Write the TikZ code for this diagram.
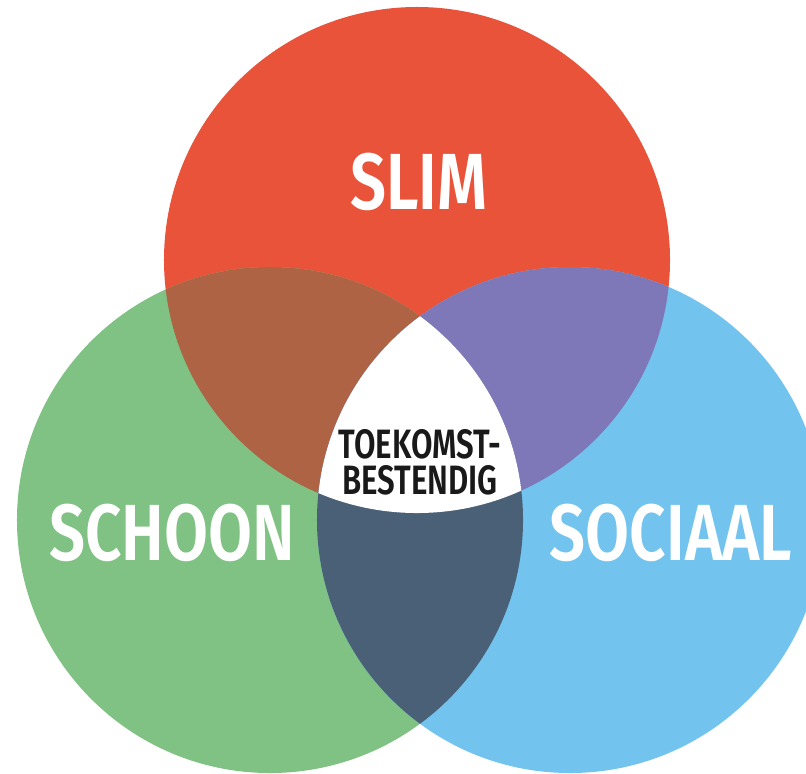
\documentclass[tikz,border=0pt]{standalone}
\usepackage{fontspec}
\setmainfont{Fira Sans}[BoldFont={Fira Sans SemiBold}]
\definecolor{slimred}{HTML}{E8533A}
\definecolor{schoongreen}{HTML}{80C283}
\definecolor{sociaalblue}{HTML}{72C3EE}
\definecolor{redgreen}{HTML}{AE6344}
\definecolor{redblue}{HTML}{7E77B8}
\definecolor{greenblue}{HTML}{4A6076}
\tikzset{
  label big/.style={text=white, font=\bfseries\fontsize{68}{68}\selectfont, xscale=0.8, inner sep=0pt},
  label mid/.style={text=black!90, font=\bfseries\fontsize{35}{31}\selectfont, align=center, xscale=0.76, inner sep=0pt}
}
\begin{document}
\begin{tikzpicture}[x=0.03cm, y=-0.03cm]
	\useasboundingbox (0,0) rectangle (806,773);
	\clip (0,0) rectangle (806,773);
	% centres of the three circles
	\coordinate (slim c) at (417,260);
	\coordinate (schoon c) at (270,520);
	\coordinate (sociaal c) at (570,520);
	\def\rad{7.59cm}
	\fill[slimred] (slim c) circle [radius=\rad];
	\fill[schoongreen] (schoon c) circle [radius=\rad];
	\fill[sociaalblue] (sociaal c) circle [radius=\rad];
	% overlaps
	\begin{scope}
		\clip (slim c) circle [radius=\rad];
		\fill[redgreen] (schoon c) circle [radius=\rad];
		\fill[redblue] (sociaal c) circle [radius=\rad];
	\end{scope}
	\begin{scope}
		\clip (schoon c) circle [radius=\rad];
		\fill[greenblue] (sociaal c) circle [radius=\rad];
		\clip (slim c) circle [radius=\rad];
		\fill[white] (sociaal c) circle [radius=\rad];
	\end{scope}
	% labels
	\node[label big] (slim) at (419,182) {SLIM};
	\node[label big] (schoon) at (172,533) {SCHOON};
	\node[label big] (sociaal) at (671,533) {SOCIAAL};
	\node[label mid] (toekomst) at (420,462) {TOEKOMST-\\BESTENDIG};
\end{tikzpicture}
\end{document}
